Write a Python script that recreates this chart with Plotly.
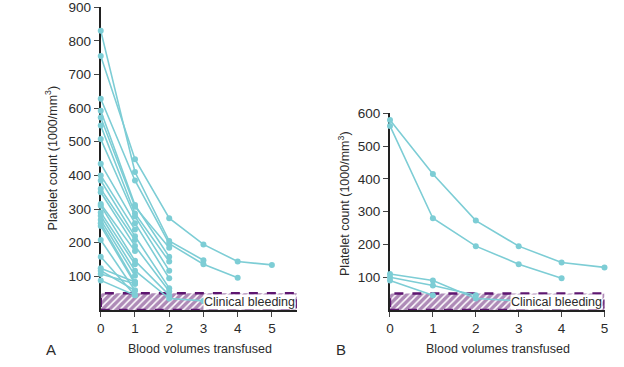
import plotly.graph_objects as go

# ---- Data: panel A (x = blood volumes transfused, y = platelet count) ----
a_series = [
    [755, 448, 273, 195, 144, 134],
    [830, 410, 205, 148],
    [628, 385, 197, 136, 96],
    [592, 312, 158],
    [572, 307, 185],
    [548, 287, 144],
    [508, 278, 117],
    [435, 258, 94],
    [400, 239],
    [385, 219, 65],
    [360, 208],
    [350, 190, 56],
    [315, 175],
    [310, 146, 44],
    [290, 136],
    [280, 117, 34, 27],
    [268, 102],
    [258, 83],
    [250, 78],
    [208, 58],
    [158, 44],
    [124, 83],
    [117, 58],
    [107, 78],
    [88, 44],
]
# ---- Data: panel B ----
b_series = [
    [580, 415, 273, 195, 145, 130],
    [562, 280, 195, 140, 97],
    [110, 90, 35, 28],
    [100, 75, 45],
    [90, 45],
]
bleeding_threshold = 50
a_xmax = 5.73
b_xmax = 5.0
a_yticks = [100, 200, 300, 400, 500, 600, 700, 800, 900]
b_yticks = [100, 200, 300, 400, 500, 600]
x_ticks = [0, 1, 2, 3, 4, 5]

TEAL = "#7dcdd5"
PURPLE = "#5e1670"
FONT = "Liberation Sans, Arial, sans-serif"
TXT = "#2b2b2b"

fig = go.Figure()

def add_band(xmax, xa, ya):
    fig.add_trace(go.Scatter(
        x=[0, xmax, xmax, 0, 0], y=[0, 0, bleeding_threshold, bleeding_threshold, 0],
        mode="lines", fill="toself", xaxis=xa, yaxis=ya,
        fillcolor="white",
        fillpattern=dict(shape="/", fgcolor=PURPLE, bgcolor="white", size=5, solidity=0.7),
        line=dict(color=PURPLE, width=2.5, dash="dash"),
        hoverinfo="skip", showlegend=False, cliponaxis=False))

add_band(a_xmax, "x", "y")
add_band(b_xmax, "x2", "y2")

for s in a_series:
    fig.add_trace(go.Scatter(
        x=list(range(len(s))), y=s, mode="lines+markers", xaxis="x", yaxis="y",
        line=dict(color=TEAL, width=1.6), marker=dict(color=TEAL, size=6),
        showlegend=False, cliponaxis=False))
for s in b_series:
    fig.add_trace(go.Scatter(
        x=list(range(len(s))), y=s, mode="lines+markers", xaxis="x2", yaxis="y2",
        line=dict(color=TEAL, width=1.6), marker=dict(color=TEAL, size=6),
        showlegend=False, cliponaxis=False))

W, H = 624, 367
T, B = 3, 57
PH = H - T - B

def px(v):
    return v / W

def py(v):
    return (H - B - v) / PH

axis_common = dict(showgrid=False, zeroline=False, showline=True, linecolor="#222",
                   linewidth=2, ticks="outside", ticklen=5, tickwidth=1, tickcolor="#444",
                   tickfont=dict(family=FONT, size=13.5, color=TXT), layer="below traces",
                   ticklabeloverflow="allow")

fig.update_layout(
    width=W, height=H, margin=dict(l=0, r=0, t=T, b=B),
    paper_bgcolor="white", plot_bgcolor="white",
    font=dict(family=FONT, color=TXT),
    xaxis=dict(domain=[px(98), px(296.7)], range=[0, a_xmax], anchor="y",
               tickvals=x_ticks, **axis_common),
    yaxis=dict(domain=[0, 1], range=[0, 900.5], anchor="x", tickvals=a_yticks, **axis_common),
    xaxis2=dict(domain=[px(391), px(608.3)], range=[0, b_xmax], anchor="y2",
                tickvals=x_ticks, **axis_common),
    yaxis2=dict(domain=[0, py(110.7)], range=[0, 600.5], anchor="x2", tickvals=b_yticks, **axis_common),
)

ann_font = dict(family=FONT, size=12.5, color=TXT)
annotations = [
    dict(text="Clinical bleeding", x=a_xmax - 0.03, y=25, xref="x", yref="y",
         xanchor="right", yanchor="middle", showarrow=False, bgcolor="white",
         font=dict(family=FONT, size=12.5, color=TXT), borderpad=0),
    dict(text="Clinical bleeding", x=b_xmax - 0.03, y=25, xref="x2", yref="y2",
         xanchor="right", yanchor="middle", showarrow=False, bgcolor="white",
         font=dict(family=FONT, size=12.5, color=TXT), borderpad=0),
    dict(text="Platelet count (1000/mm<sup>3</sup>)", x=px(48), y=py(156), xref="paper", yref="paper",
         textangle=-90, showarrow=False, font=ann_font, xanchor="center", yanchor="middle"),
    dict(text="Platelet count (1000/mm<sup>3</sup>)", x=px(345), y=py(202), xref="paper", yref="paper",
         textangle=-90, showarrow=False, font=ann_font, xanchor="center", yanchor="middle"),
    dict(text="Blood volumes transfused", x=px(199), y=py(350), xref="paper", yref="paper",
         showarrow=False, font=ann_font, xanchor="center", yanchor="middle"),
    dict(text="Blood volumes transfused", x=px(500), y=py(350), xref="paper", yref="paper",
         showarrow=False, font=ann_font, xanchor="center", yanchor="middle"),
    dict(text="A", x=px(48), y=py(350), xref="paper", yref="paper",
         showarrow=False, font=dict(family=FONT, size=15, color=TXT), xanchor="center", yanchor="middle"),
    dict(text="B", x=px(341), y=py(350), xref="paper", yref="paper",
         showarrow=False, font=dict(family=FONT, size=15, color=TXT), xanchor="center", yanchor="middle"),
]
fig.update_layout(annotations=annotations)

fig.write_html("out.html", config={"displayModeBar": False},
               post_script="document.body.style.margin='0';document.body.style.overflow='hidden';")
